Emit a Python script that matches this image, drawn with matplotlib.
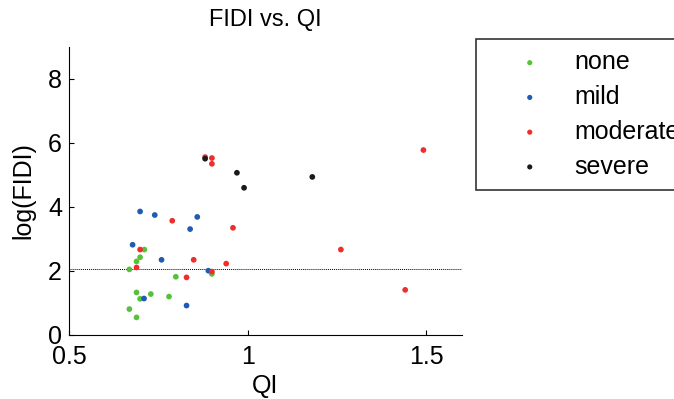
import matplotlib
matplotlib.use("Agg")
import matplotlib.pyplot as plt

plt.rcParams['font.family'] = ['Liberation Sans', 'DejaVu Sans']

# QI and log(FIDI) per severity group
none_qi = [0.669, 0.689, 0.699, 0.711, 0.689, 0.699, 0.729, 0.780, 0.799, 0.669, 0.689, 0.900]
none_fidi = [2.05, 2.30, 2.43, 2.67, 1.33, 1.13, 1.28, 1.20, 1.82, 0.81, 0.55, 1.91]

mild_qi = [0.678, 0.699, 0.740, 0.759, 0.839, 0.859, 0.890, 0.710, 0.829]
mild_fidi = [2.82, 3.86, 3.75, 2.35, 3.31, 3.69, 2.01, 1.14, 0.92]

moderate_qi = [0.699, 0.689, 0.789, 0.849, 0.829, 0.900, 0.940, 0.959, 0.881, 0.900,
               0.900, 1.261, 1.441, 1.492]
moderate_fidi = [2.67, 2.11, 3.57, 2.35, 1.80, 1.98, 2.23, 3.35, 5.56, 5.53,
                 5.35, 2.67, 1.41, 5.78]

severe_qi = [0.881, 0.970, 0.990, 1.181]
severe_fidi = [5.51, 5.07, 4.60, 4.94]

threshold = 2.06

groups = ["none", "mild", "moderate", "severe"]
colors = ["#55C23A", "#1F5BB0", "#F02D2D", "#1A1A1A"]

fig = plt.figure(figsize=(6.74, 3.99), dpi=100)
ax = fig.add_axes([69 / 674, 1 - 335 / 399, (462 - 69) / 674, (335 - 47) / 399])

series = [(none_qi, none_fidi), (mild_qi, mild_fidi),
          (moderate_qi, moderate_fidi), (severe_qi, severe_fidi)]
for (qx, fy), name, col in zip(series, groups, colors):
    ax.scatter(qx, fy, s=17, color=col, edgecolors='none', label=name, zorder=3)

ax.axhline(threshold, color='black', linestyle=(0, (1, 1)), linewidth=0.7, zorder=2)

ax.set_xlim(0.5, 1.6)
ax.set_ylim(0, 9)
ax.set_xticks([0.5, 1, 1.5])
ax.set_xticklabels(["0.5", "1", "1.5"])
ax.set_yticks([0, 2, 4, 6, 8])

for side in ("top", "right"):
    ax.spines[side].set_visible(False)
for side in ("left", "bottom"):
    ax.spines[side].set_linewidth(0.8)
    ax.spines[side].set_color('black')

ax.tick_params(direction='in', length=3.5, width=0.8, labelsize=18, colors='black')
ax.tick_params(axis='x', pad=7)
ax.tick_params(axis='y', pad=5)

ax.set_xlabel("QI", fontsize=18, labelpad=4)
ax.set_ylabel("log(FIDI)", fontsize=18, labelpad=9)
ax.set_title("FIDI vs. QI", fontsize=17, pad=15)

leg = ax.legend(loc='upper left', bbox_to_anchor=(476 / 674, 1 - 39 / 399),
                bbox_transform=fig.transFigure, borderaxespad=0,
                fontsize=18, frameon=True, fancybox=False, scatterpoints=1,
                handlelength=3.4, handletextpad=0.1, borderpad=0.45,
                labelspacing=0.43, markerscale=0.9)
leg.get_frame().set_edgecolor('black')
leg.get_frame().set_linewidth(1.2)

fig.savefig("out.png", dpi=100)
